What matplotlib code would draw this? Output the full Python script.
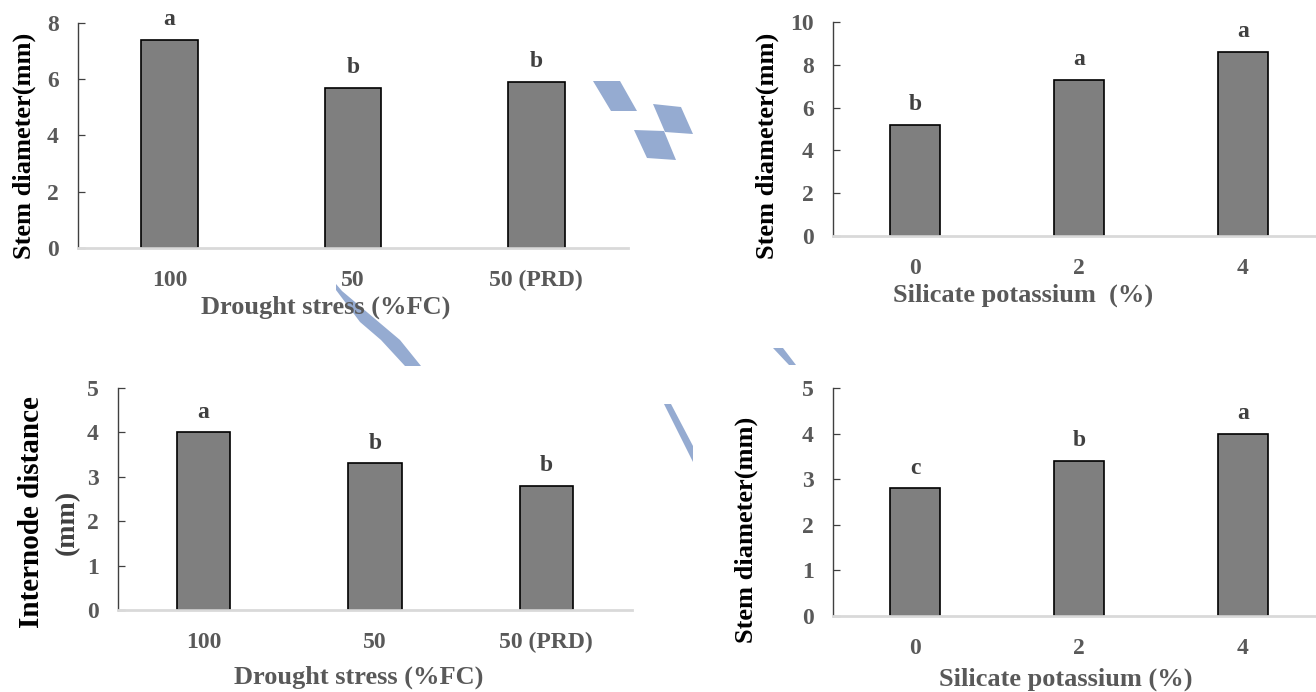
import matplotlib
matplotlib.use("Agg")
import matplotlib.pyplot as plt
from matplotlib.patches import Polygon

# datos
drought_cats = ['100', '50', '50 (PRD)']
silicate_cats = ['0', '2', '4']

stem_drought = [7.4, 5.7, 5.9]
stem_drought_let = ['a', 'b', 'b']

stem_silicate = [5.2, 7.3, 8.6]
stem_silicate_let = ['b', 'a', 'a']

internode_drought = [4.0, 3.3, 2.8]
internode_drought_let = ['a', 'b', 'b']

stem2_silicate = [2.8, 3.4, 4.0]
stem2_silicate_let = ['c', 'b', 'a']

W, H = 1316, 692
GRIS_TXT = '#595959'
GRIS_BAR = '#7f7f7f'
AZUL = '#95abd1'

plt.rcParams['font.family'] = ['Liberation Serif', 'DejaVu Serif']
plt.rcParams['font.weight'] = 'bold'


def px(x, y):
    # pixel (desde arriba) -> fraccion de figura
    return x / W, 1 - y / H


def caja(x0, x1, ytop, ybot):
    return [x0 / W, 1 - ybot / H, (x1 - x0) / W, (ybot - ytop) / H]


def graficar_barras(ax, cats, valores, letras, ymax, paso, xmax=2.5):
    x = range(len(cats))
    ax.bar(x, valores, width=0.31, color=GRIS_BAR, edgecolor='black',
           linewidth=1.2, zorder=2)
    for xi, v, l in zip(x, valores, letras):
        ax.annotate(l, (xi, v), xytext=(0, 10.5), textcoords='offset points',
                    ha='center', va='baseline', fontsize=17,
                    fontweight='bold', color='#404040')
    ax.set_xlim(-0.5, xmax)
    ax.set_ylim(0, ymax)
    ax.set_yticks(range(0, ymax + 1, paso))
    ax.set_xticks(list(x))
    ax.set_xticklabels(cats)
    for s in ['top', 'right']:
        ax.spines[s].set_visible(False)
    ax.spines['left'].set_color('#404040')
    ax.spines['left'].set_linewidth(1.0)
    ax.spines['bottom'].set_color('#d9d9d9')
    ax.spines['bottom'].set_linewidth(2.0)
    ax.tick_params(axis='y', direction='in', length=5, width=0.9,
                   color='#404040', pad=14, labelsize=17, labelcolor=GRIS_TXT)
    ax.tick_params(axis='x', length=0, pad=16, labelsize=17,
                   labelcolor=GRIS_TXT)
    for t in ax.get_xticklabels() + ax.get_yticklabels():
        t.set_fontweight('bold')


fig = plt.figure(figsize=(W / 100, H / 100), dpi=100)

xmax_der = 2.5 - 9 / 164

ax1 = fig.add_axes(caja(78, 628, 23, 248))
graficar_barras(ax1, drought_cats, stem_drought, stem_drought_let, 8, 2)

ax2 = fig.add_axes(caja(833, 1316, 22, 236))
graficar_barras(ax2, silicate_cats, stem_silicate, stem_silicate_let, 10, 2,
                xmax_der)

ax3 = fig.add_axes(caja(118, 632, 388, 610))
graficar_barras(ax3, drought_cats, internode_drought, internode_drought_let,
                5, 1)

ax4 = fig.add_axes(caja(833, 1316, 388, 616))
graficar_barras(ax4, silicate_cats, stem2_silicate, stem2_silicate_let, 5, 1,
                xmax_der)

# titulos de ejes
fig.text(*px(24, 146), 'Stem diameter(mm)', rotation=90, ha='center',
         va='center', fontsize=19, fontweight='bold', color='black')
fig.text(*px(767, 146), 'Stem diameter(mm)', rotation=90, ha='center',
         va='center', fontsize=19, fontweight='bold', color='black')
fig.text(*px(32, 512), 'Internode distance', rotation=90, ha='center',
         va='center', fontsize=21, fontweight='bold', color='black')
fig.text(*px(67, 522), '(mm)', rotation=90, ha='center', va='center',
         fontsize=20, fontweight='bold', color='#404040')
fig.text(*px(746, 530), 'Stem diameter(mm)', rotation=90, ha='center',
         va='center', fontsize=19, fontweight='bold', color='black')

fig.text(*px(326, 307), 'Drought stress (%FC)', ha='center', va='center',
         fontsize=19, fontweight='bold', color=GRIS_TXT)
fig.text(*px(1023, 295), 'Silicate potassium  (%)', ha='center',
         va='center', fontsize=19, fontweight='bold', color=GRIS_TXT)
fig.text(*px(359, 677), 'Drought stress (%FC)', ha='center', va='center',
         fontsize=19, fontweight='bold', color=GRIS_TXT)
fig.text(*px(1066, 679), 'Silicate potassium (%)', ha='center', va='center',
         fontsize=19, fontweight='bold', color=GRIS_TXT)

# formas azules decorativas que aparecen en la imagen
formas = [
    [(593, 81), (620, 81), (637, 111), (611, 111)],
    [(653, 104), (681, 107), (693, 134), (665, 132)],
    [(634, 130), (664, 131), (676, 160), (647, 158)],
    [(336, 284), (342, 291), (400, 340), (421, 366), (405, 366),
     (381, 340), (360, 322), (336, 290)],
    [(773, 348), (783, 348), (796, 365), (789, 365)],
    [(664, 404), (671, 404), (693, 446), (693, 462)],
]
for f in formas:
    fig.patches.append(Polygon([px(x, y) for x, y in f], closed=True,
                               transform=fig.transFigure, facecolor=AZUL,
                               edgecolor='none', zorder=1))

fig.savefig('out.png', dpi=100)
